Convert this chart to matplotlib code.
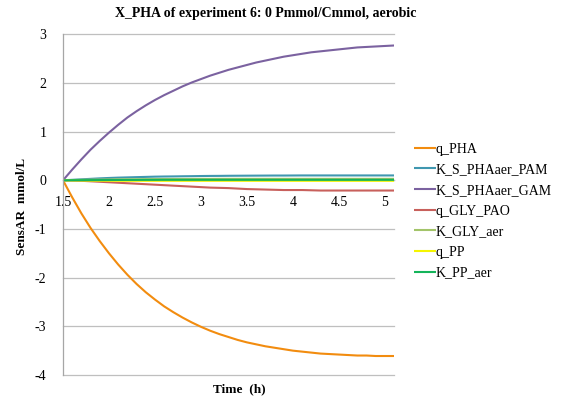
import matplotlib
matplotlib.use("Agg")
import matplotlib.pyplot as plt

plt.rcParams['font.family'] = ['Liberation Serif', 'DejaVu Serif']
plt.rcParams['axes.unicode_minus'] = False

title = "X_PHA of experiment 6: 0 Pmmol/Cmmol, aerobic"
x_label = "Time  (h)"
y_label = "SensAR  mmol/L"

time_h = [1.5, 1.6, 1.7, 1.8, 1.9, 2.0, 2.1, 2.2, 2.3, 2.4,
          2.5, 2.6, 2.7, 2.8, 2.9, 3.0, 3.1, 3.2, 3.3, 3.4,
          3.5, 3.6, 3.7, 3.8, 3.9, 4.0, 4.1, 4.2, 4.3, 4.4,
          4.5, 4.6, 4.7, 4.8, 4.9, 5.0, 5.1]

q_PHA = [0, -0.35, -0.68, -0.98, -1.25, -1.50, -1.73, -1.94, -2.13, -2.30,
         -2.45, -2.59, -2.71, -2.82, -2.92, -3.01, -3.09, -3.16, -3.22, -3.28,
         -3.33, -3.37, -3.41, -3.44, -3.47, -3.50, -3.52, -3.54, -3.56, -3.57,
         -3.58, -3.59, -3.60, -3.60, -3.61, -3.61, -3.61]
K_S_PHAaer_PAM = [0, 0.01, 0.02, 0.03, 0.04, 0.048, 0.055, 0.06, 0.065, 0.07,
                  0.075, 0.078, 0.08, 0.083, 0.085, 0.088, 0.09, 0.091, 0.093, 0.094,
                  0.095, 0.096, 0.097, 0.098, 0.098, 0.099, 0.1, 0.1, 0.1, 0.1,
                  0.1, 0.1, 0.1, 0.1, 0.1, 0.1, 0.1]
K_S_PHAaer_GAM = [0, 0.22, 0.43, 0.63, 0.81, 0.98, 1.14, 1.29, 1.42, 1.54,
                  1.65, 1.75, 1.84, 1.93, 2.01, 2.08, 2.15, 2.21, 2.27, 2.32,
                  2.37, 2.42, 2.46, 2.50, 2.54, 2.57, 2.60, 2.63, 2.65, 2.67,
                  2.69, 2.71, 2.73, 2.74, 2.75, 2.76, 2.77]
q_GLY_PAO = [0, -0.005, -0.01, -0.02, -0.03, -0.04, -0.05, -0.06, -0.07, -0.08,
             -0.09, -0.10, -0.11, -0.12, -0.13, -0.14, -0.15, -0.155, -0.16, -0.17,
             -0.18, -0.185, -0.19, -0.195, -0.20, -0.20, -0.20, -0.205, -0.21, -0.21,
             -0.21, -0.21, -0.21, -0.21, -0.21, -0.21, -0.21]
K_GLY_aer = [0, 0.005, 0.01, 0.013, 0.015, 0.018, 0.02, 0.021, 0.022, 0.024,
             0.025, 0.026, 0.027, 0.028, 0.028, 0.029, 0.029, 0.03, 0.03, 0.03,
             0.03, 0.03, 0.03, 0.03, 0.03, 0.03, 0.03, 0.03, 0.03, 0.03,
             0.03, 0.03, 0.03, 0.03, 0.03, 0.03, 0.03]
q_PP = [0, -0.003, -0.005, -0.007, -0.008, -0.009, -0.01, -0.01, -0.01, -0.01,
        -0.01, -0.01, -0.01, -0.01, -0.01, -0.01, -0.01, -0.01, -0.01, -0.01,
        -0.01, -0.01, -0.01, -0.01, -0.01, -0.01, -0.01, -0.01, -0.01, -0.01,
        -0.01, -0.01, -0.01, -0.01, -0.01, -0.01, -0.01]
K_PP_aer = [0, 0.002, 0.003, 0.004, 0.005, 0.006, 0.007, 0.008, 0.008, 0.009,
            0.009, 0.01, 0.01, 0.01, 0.01, 0.01, 0.01, 0.01, 0.01, 0.01,
            0.01, 0.01, 0.01, 0.01, 0.01, 0.01, 0.01, 0.01, 0.01, 0.01,
            0.01, 0.01, 0.01, 0.01, 0.01, 0.01, 0.01]

series = [
    ("q_PHA", q_PHA, "#F28C0F"),
    ("K_S_PHAaer_PAM", K_S_PHAaer_PAM, "#3F97B0"),
    ("K_S_PHAaer_GAM", K_S_PHAaer_GAM, "#7B62A0"),
    ("q_GLY_PAO", q_GLY_PAO, "#C8605C"),
    ("K_GLY_aer", K_GLY_aer, "#A3C46A"),
    ("q_PP", q_PP, "#F5F500"),
    ("K_PP_aer", K_PP_aer, "#14B45A"),
]

y_ticks = [-4, -3, -2, -1, 0, 1, 2, 3]
x_ticks = [1.5, 2, 2.5, 3, 3.5, 4, 4.5, 5]
x_tick_labels = ["1.5", "2", "2.5", "3", "3.5", "4", "4.5", "5"]

fig = plt.figure(figsize=(5.65, 4.03), dpi=100)
ax = fig.add_axes([0.1115, 0.0695, 0.586, 0.8454])

for name, vals, color in series:
    ax.plot(time_h, vals, color=color, lw=1.5, label=name,
            solid_capstyle='butt', solid_joinstyle='round')

ax.set_xlim(1.5, 5.1)
ax.set_ylim(-4, 3)
ax.set_yticks(y_ticks)
ax.set_xticks(x_ticks)
ax.set_xticklabels(x_tick_labels)

ax.grid(axis='y', color='#BFBFBF', lw=0.9)
ax.set_axisbelow(True)
for gl in ax.get_ygridlines():
    gl.set_clip_on(False)

for side in ['top', 'right']:
    ax.spines[side].set_visible(False)
ax.spines['bottom'].set_position(('data', 0))
ax.spines['bottom'].set_color('#A6A6A6')
ax.spines['left'].set_color('#A6A6A6')
ax.spines['left'].set_linewidth(0.9)
ax.spines['bottom'].set_linewidth(0.9)
ax.spines['bottom'].set_zorder(0.5)

ax.tick_params(axis='x', length=0, pad=11, labelsize=10)
ax.tick_params(axis='y', length=0, pad=12, labelsize=10)

fig.text(266 / 565, 0.967, title, ha='center', va='center', fontsize=10, fontweight='bold')
fig.text(239 / 565, 1 - 389 / 403, x_label, ha='center', va='center', fontsize=9.5, fontweight='bold')
fig.text(22 / 565, 1 - 206 / 403, y_label, ha='center', va='center', rotation=90,
         fontsize=9.5, fontweight='bold')

leg = ax.legend(loc='center left', bbox_to_anchor=(408 / 565, 1 - 211 / 403),
                bbox_transform=fig.transFigure, frameon=False, fontsize=10,
                handlelength=1.6, handletextpad=0.0, labelspacing=0.55, borderaxespad=0)

fig.savefig("out.png", dpi=100)
